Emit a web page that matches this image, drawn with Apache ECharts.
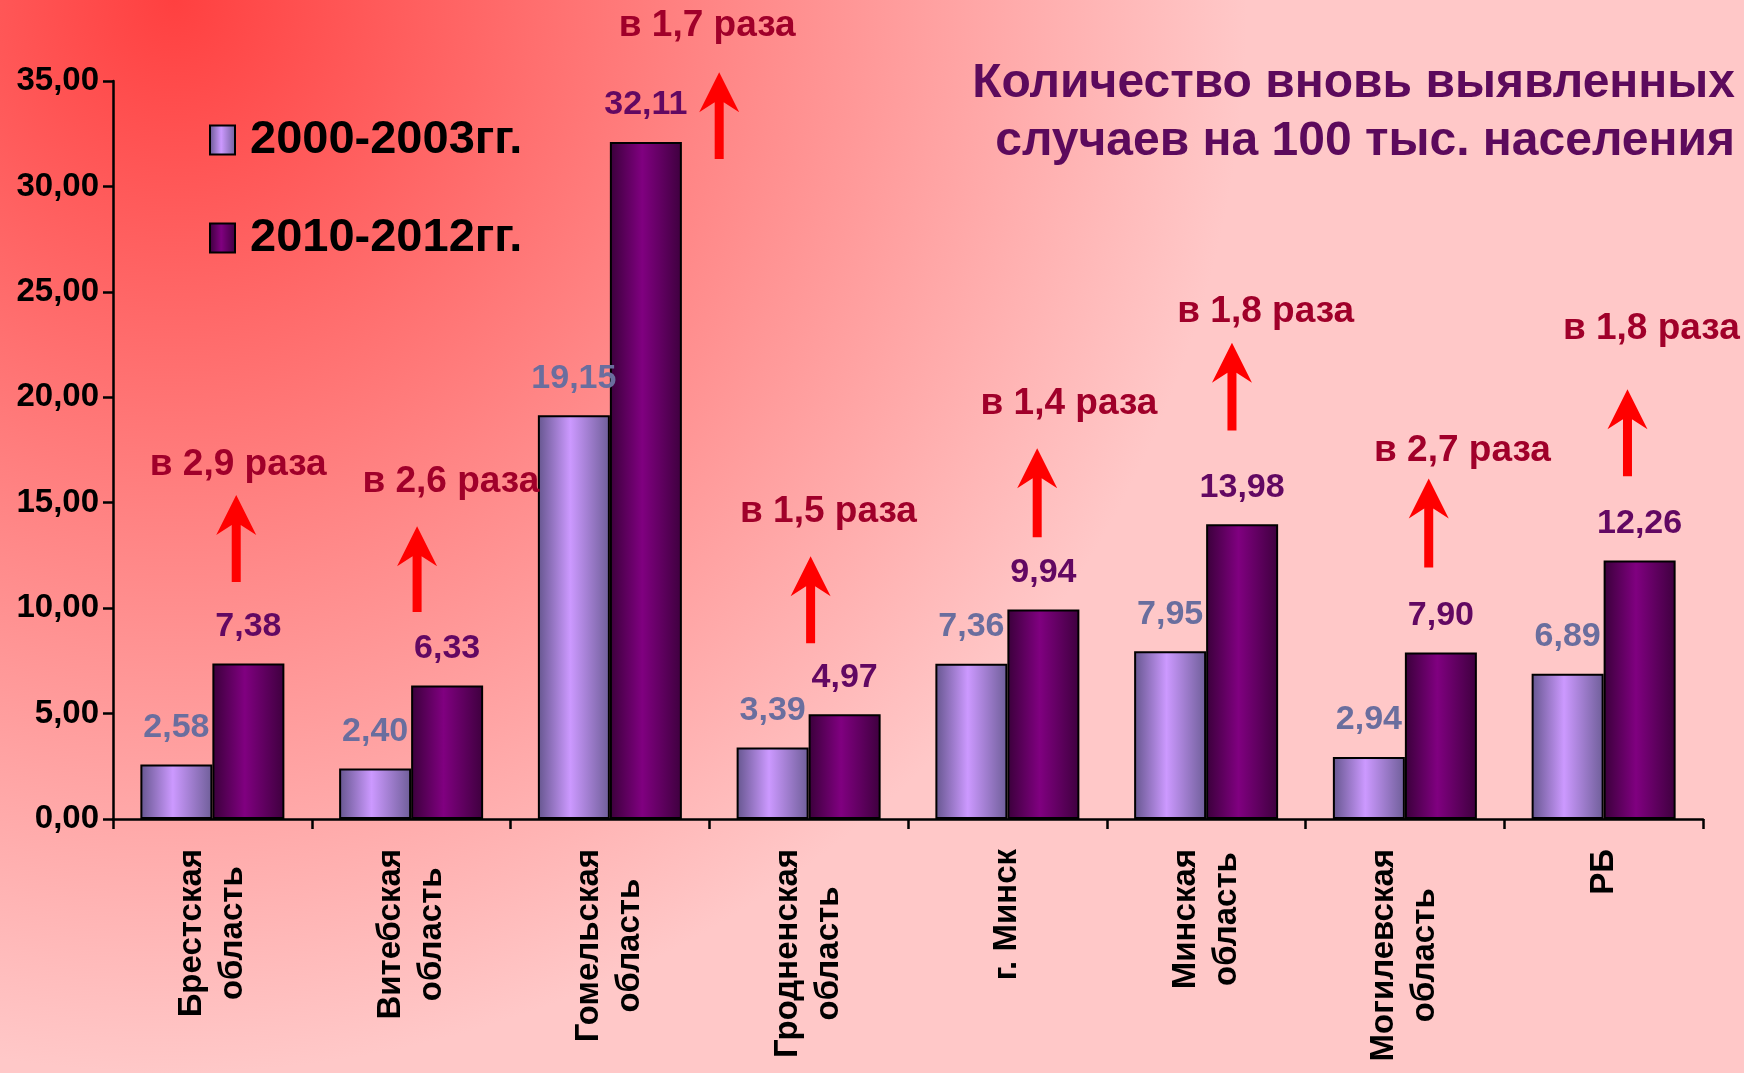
<!DOCTYPE html>
<html>
<head>
<meta charset="utf-8">
<script src="https://cdn.jsdelivr.net/npm/echarts@6/dist/echarts.min.js"></script>
<style>
  html, body { margin: 0; padding: 0; }
  #myChart { width: 1744px; height: 1073px; }
</style>
</head>
<body>
<div id="myChart"></div>
<script>
// categories and values
var regions = [
  "Брестская\nобласть",
  "Витебская\nобласть",
  "Гомельская\nобласть",
  "Гродненская\nобласть",
  "г. Минск",
  "Минская\nобласть",
  "Могилевская\nобласть",
  "РБ"
];
var seriesNames = ["2000-2003гг.", "2010-2012гг."];
var period1 = [2.58, 2.40, 19.15, 3.39, 7.36, 7.95, 2.94, 6.89];
var period2 = [7.38, 6.33, 32.11, 4.97, 9.94, 13.98, 7.90, 12.26];

// growth notes with arrows (x in category units, y in axis units)
var ratioText = ["в 2,9 раза", "в 2,6 раза", "в 1,7 раза", "в 1,5 раза",
                 "в 1,4 раза", "в 1,8 раза", "в 2,7 раза", "в 1,8 раза"];
var arrowX = [0.62, 1.53, 3.05, 3.51, 4.65, 5.63, 6.62, 7.62];
var arrowFrom = [11.24, 9.82, 31.3, 8.34, 13.36, 18.42, 11.93, 16.26];
var arrowTo = [15.36, 13.88, 35.42, 12.46, 17.58, 22.59, 16.15, 20.38];
var noteX = [0.63, 1.70, 2.99, 3.60, 4.81, 5.80, 6.79, 7.74];
var noteY = [16.79, 16.0, 37.64, 14.57, 19.69, 24.07, 17.47, 23.23];

var font = "Liberation Sans";

function fmt(v) {
  return Number(v).toFixed(2).replace(".", ",");
}

var notes = [];
for (var i = 0; i < ratioText.length; i++) {
  notes.push([arrowX[i], arrowFrom[i], arrowTo[i], noteX[i], noteY[i]]);
}

var myChart = echarts.init(document.getElementById("myChart"));

var option = {
  backgroundColor: {
    type: "radial", x: 0.1, y: 0, r: 1.0,
    colorStops: [
      { offset: 0, color: "#ff4040" },
      { offset: 0.5, color: "#ff8585" },
      { offset: 1, color: "#ffc8c8" }
    ]
  },
  title: {
    text: "Количество вновь выявленных\nслучаев на 100 тыс. населения",
    left: 1730,
    top: 50,
    textAlign: "right",
    textStyle: {
      color: "#5c0a5c",
      fontFamily: font,
      fontWeight: "bold",
      fontSize: 48,
      lineHeight: 58
    }
  },
  legend: {
    orient: "vertical",
    left: 209,
    top: 115,
    padding: 0,
    itemWidth: 25,
    itemHeight: 29,
    itemGap: 48,
    icon: "rect",
    data: seriesNames,
    textStyle: {
      color: "#000",
      fontFamily: font,
      fontWeight: "bold",
      fontSize: 47,
      lineHeight: 50,
      padding: [0, 0, 0, 10]
    }
  },
  grid: {
    left: 113,
    right: 41,
    top: 81,
    bottom: 254
  },
  xAxis: [
    {
      type: "category",
      data: regions,
      axisLine: { lineStyle: { color: "#000", width: 2.5 } },
      axisTick: { show: true, length: 10, lineStyle: { color: "#000", width: 2.5 } },
      axisLabel: {
        interval: 0,
        rotate: 90,
        margin: 30,
        color: "#000",
        formatter: function (v) {
          return v.split("\n").map(function (s) { return "{c|" + s + "}"; }).join("\n");
        },
        rich: {
          c: {
            align: "center",
            color: "#000",
            fontFamily: font,
            fontWeight: "bold",
            fontSize: 33,
            lineHeight: 41
          }
        }
      }
    },
    {
      type: "value",
      min: 0,
      max: 8,
      show: false
    }
  ],
  yAxis: {
    type: "value",
    min: 0,
    max: 35,
    interval: 5,
    splitLine: { show: false },
    axisLine: { show: true, lineStyle: { color: "#000", width: 2.5 } },
    axisTick: { show: true, length: 10, lineStyle: { color: "#000", width: 2.5 } },
    axisLabel: {
      margin: 14,
      color: "#000",
      fontFamily: font,
      fontWeight: "bold",
      fontSize: 33,
      formatter: fmt
    }
  },
  series: [
    {
      name: seriesNames[0],
      type: "bar",
      data: period1,
      barWidth: 72,
      barGap: "0%",
      itemStyle: {
        borderColor: "#000",
        borderWidth: 2,
        color: {
          type: "linear", x: 0, y: 0, x2: 1, y2: 0,
          colorStops: [
            { offset: 0, color: "#65568e" },
            { offset: 0.45, color: "#cc99ff" },
            { offset: 1, color: "#6e5e98" }
          ]
        }
      },
      label: {
        show: true,
        position: "top",
        distance: 20,
        color: "#6a6e9e",
        fontFamily: font,
        fontWeight: "bold",
        fontSize: 34,
        formatter: function (p) { return fmt(p.value); }
      }
    },
    {
      name: seriesNames[1],
      type: "bar",
      data: period2,
      barWidth: 72,
      barGap: "0%",
      itemStyle: {
        borderColor: "#000",
        borderWidth: 2,
        color: {
          type: "linear", x: 0, y: 0, x2: 1, y2: 0,
          colorStops: [
            { offset: 0, color: "#3a003a" },
            { offset: 0.45, color: "#800080" },
            { offset: 1, color: "#3e003e" }
          ]
        }
      },
      label: {
        show: true,
        position: "top",
        distance: 20,
        color: "#620862",
        fontFamily: font,
        fontWeight: "bold",
        fontSize: 34,
        formatter: function (p) { return fmt(p.value); }
      }
    },
    {
      type: "custom",
      xAxisIndex: 1,
      yAxisIndex: 0,
      silent: true,
      clip: false,
      z: 5,
      data: notes,
      encode: { x: 0, y: 1 },
      renderItem: function (params, api) {
        var x = api.value(0);
        var p0 = api.coord([x, api.value(1)]);
        var p1 = api.coord([x, api.value(2)]);
        var t = api.coord([api.value(3), api.value(4)]);
        var hw = 4.5, headW = 20, headH = 40, notch = 30;
        var pts = [
          [p0[0] - hw, p0[1]],
          [p0[0] - hw, p1[1] + notch],
          [p0[0] - headW, p1[1] + headH],
          [p0[0], p1[1]],
          [p0[0] + headW, p1[1] + headH],
          [p0[0] + hw, p1[1] + notch],
          [p0[0] + hw, p0[1]]
        ];
        return {
          type: "group",
          children: [
            { type: "polygon", shape: { points: pts }, style: { fill: "#ff0000" } },
            {
              type: "text",
              x: t[0],
              y: t[1],
              style: {
                text: ratioText[params.dataIndex],
                fill: "#a0002a",
                font: "bold 37px " + font,
                align: "center",
                verticalAlign: "middle"
              }
            }
          ]
        };
      }
    }
  ]
};
myChart.setOption(option);
</script>
</body>
</html>
